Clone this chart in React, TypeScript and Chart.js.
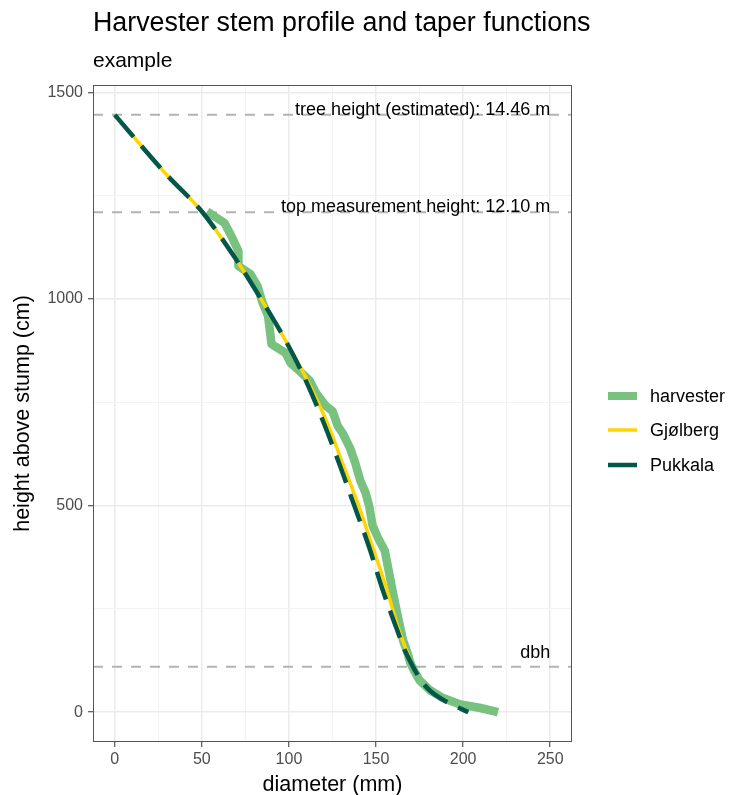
import React, { useEffect, useRef } from "react";
import { Chart, registerables } from "chart.js";
Chart.register(...registerables);

// ---- data ----
const titleText = "Harvester stem profile and taper functions";
const subtitleText = "example";
const xTitle = "diameter (mm)";
const yTitle = "height above stump (cm)";

const seriesNames = ["harvester", "Gjølberg", "Pukkala"];

const harvesterDiameter = [53, 63, 67, 71, 71, 78, 82, 84.5, 88, 90, 98, 101, 106, 112, 115.5, 121, 125, 128, 131, 135, 138, 141, 144, 146, 148, 151, 155, 157, 160, 163, 165.5, 168.5, 169.5, 172, 175, 181, 188.5, 198, 210, 220];
const harvesterHeight = [1212, 1184, 1152, 1116, 1080, 1060, 1031, 995, 959, 891, 870, 845, 826, 802, 773, 742, 729, 693, 674, 640, 604, 560, 531, 500, 452, 423, 391, 348, 283, 222, 174, 138, 121, 99, 77, 53, 34, 19, 10, 0];

const gjolbergDiameter = [0, 30, 50, 69, 84, 98, 111, 122, 131, 140, 148, 156, 163, 169];
const gjolbergHeight = [1446, 1300, 1212, 1100, 1000, 900, 800, 700, 600, 500, 400, 300, 200, 133];

const pukkalaDiameter = [0, 30, 50, 69, 84, 98, 110, 120, 129, 137.5, 146, 153.5, 162, 166.5, 172.5, 177, 181.5, 190.5, 203];
const pukkalaHeight = [1446, 1300, 1212, 1100, 1000, 900, 800, 700, 600, 500, 400, 300, 200, 150, 100, 70, 50, 25, 0];

const refLineHeight = [1446, 1210, 110];
const refLabels = ["tree height (estimated): 14.46 m", "top measurement height: 12.10 m", "dbh"];
const refLabelHeight = [1446, 1210, 130];
const refLabelDiameter = [250, 250, 250];

const xMin = -12.5;
const xMax = 262.5;
const yMin = -72.3;
const yMax = 1518.3;
const xMajorTicks = [0, 50, 100, 150, 200, 250];
const xMinorTicks = [25, 75, 125, 175, 225];
const yMajorTicks = [0, 500, 1000, 1500];
const yMinorTicks = [250, 750, 1250];

const colors = ["#78C17F", "#FFD400", "#03574A"];
const FONT = '"Liberation Sans", Arial, sans-serif';

const toPoints = (xs: number[], ys: number[]) => xs.map((x, i) => ({ x, y: ys[i] }));

export default function App() {
  const ref = useRef<HTMLCanvasElement | null>(null);

  useEffect(() => {
    const canvas = ref.current!;
    const isMajorX = (v: number) => xMajorTicks.includes(v);
    const isMajorY = (v: number) => yMajorTicks.includes(v);

    const decor = {
      id: "decor",
      afterDatasetsDraw(chart: any) {
        const { ctx, scales } = chart;
        const a = chart.chartArea;
        ctx.save();
        ctx.beginPath();
        ctx.rect(a.left, a.top, a.right - a.left, a.bottom - a.top);
        ctx.clip();
        ctx.fillStyle = "#000000";
        ctx.font = `18px ${FONT}`;
        ctx.textAlign = "right";
        ctx.textBaseline = "alphabetic";
        refLabels.forEach((t, i) => {
          ctx.fillText(t, scales.x.getPixelForValue(refLabelDiameter[i]), scales.y.getPixelForValue(refLabelHeight[i]));
        });
        ctx.restore();
      },
      afterDraw(chart: any) {
        const { ctx } = chart;
        const a = chart.chartArea;
        ctx.save();
        // panel border
        ctx.strokeStyle = "#555555";
        ctx.lineWidth = 1;
        ctx.strokeRect(Math.round(a.left) + 0.5, Math.round(a.top) + 0.5, Math.round(a.right - a.left) - 1, Math.round(a.bottom - a.top) - 1);
        // titles
        ctx.fillStyle = "#000000";
        ctx.textAlign = "left";
        ctx.textBaseline = "alphabetic";
        ctx.font = `26.8px ${FONT}`;
        ctx.fillText(titleText, a.left, 31);
        ctx.font = `21px ${FONT}`;
        ctx.fillText(subtitleText, a.left, 67);
        // axis titles
        ctx.textAlign = "center";
        ctx.font = `21.5px ${FONT}`;
        ctx.fillText(xTitle, (a.left + a.right) / 2, 791);
        ctx.save();
        ctx.translate(29, (a.top + a.bottom) / 2);
        ctx.rotate(-Math.PI / 2);
        ctx.fillText(yTitle, 0, 0);
        ctx.restore();
        // legend
        const widths = [8, 3.5, 4.5];
        const rowY = [396, 430, 465];
        ctx.font = `18px ${FONT}`;
        ctx.textAlign = "left";
        ctx.textBaseline = "middle";
        seriesNames.forEach((name, i) => {
          ctx.strokeStyle = colors[i];
          ctx.lineWidth = widths[i];
          ctx.beginPath();
          ctx.moveTo(608, rowY[i]);
          ctx.lineTo(637, rowY[i]);
          ctx.stroke();
          ctx.fillStyle = "#000000";
          ctx.fillText(name, 650, rowY[i] + 1);
        });
        ctx.restore();
      },
    };

    const refDatasets = refLineHeight.map((h) => ({
      label: "ref",
      data: [{ x: xMin, y: h }, { x: xMax, y: h }],
      borderColor: "#B3B3B3",
      borderWidth: 2,
      borderDash: [10, 9],
      pointRadius: 0,
      order: 4,
    }));

    const chart = new Chart(canvas, {
      type: "line",
      data: {
        datasets: [
          ...refDatasets,
          {
            label: seriesNames[0],
            data: toPoints(harvesterDiameter, harvesterHeight),
            borderColor: colors[0],
            borderWidth: 8.5,
            borderJoinStyle: "round",
            pointRadius: 0,
            tension: 0,
            order: 3,
          },
          {
            label: seriesNames[1],
            data: toPoints(gjolbergDiameter, gjolbergHeight),
            borderColor: colors[1],
            borderWidth: 3.5,
            pointRadius: 0,
            cubicInterpolationMode: "monotone",
            order: 2,
          },
          {
            label: seriesNames[2],
            data: toPoints(pukkalaDiameter, pukkalaHeight),
            borderColor: colors[2],
            borderWidth: 4.5,
            borderDash: [29, 12],
            pointRadius: 0,
            cubicInterpolationMode: "monotone",
            order: 1,
          },
        ] as any,
      },
      options: {
        animation: false,
        responsive: false,
        maintainAspectRatio: false,
        events: [],
        layout: { padding: { left: 0, right: 157, top: 85, bottom: 0 } },
        plugins: { legend: { display: false }, title: { display: false }, tooltip: { enabled: false } },
        scales: {
          x: {
            type: "linear",
            min: xMin,
            max: xMax,
            afterBuildTicks: (s: any) => {
              s.ticks = [...xMajorTicks, ...xMinorTicks].sort((p, q) => p - q).map((v) => ({ value: v }));
            },
            afterFit: (s: any) => {
              s.height = 53;
            },
            border: { display: false },
            grid: {
              color: (c: any) => (isMajorX(c.tick?.value) ? "#EBEBEB" : "#F3F3F3"),
              lineWidth: (c: any) => (isMajorX(c.tick?.value) ? 1.5 : 1),
              tickColor: (c: any) => (isMajorX(c.tick?.value) ? "#333333" : "rgba(0,0,0,0)"),
              tickLength: 5,
              tickWidth: 1,
            },
            ticks: {
              autoSkip: false,
              maxRotation: 0,
              padding: 3,
              color: "#4D4D4D",
              font: { family: FONT, size: 16 },
              callback: (v: any) => (isMajorX(Number(v)) ? String(v) : ""),
            },
          },
          y: {
            type: "linear",
            min: yMin,
            max: yMax,
            afterBuildTicks: (s: any) => {
              s.ticks = [...yMajorTicks, ...yMinorTicks].sort((p, q) => p - q).map((v) => ({ value: v }));
            },
            afterFit: (s: any) => {
              s.width = 93;
            },
            border: { display: false },
            grid: {
              color: (c: any) => (isMajorY(c.tick?.value) ? "#EBEBEB" : "#F3F3F3"),
              lineWidth: (c: any) => (isMajorY(c.tick?.value) ? 1.5 : 1),
              tickColor: (c: any) => (isMajorY(c.tick?.value) ? "#333333" : "rgba(0,0,0,0)"),
              tickLength: 5,
              tickWidth: 1,
            },
            ticks: {
              autoSkip: false,
              padding: 5,
              color: "#4D4D4D",
              font: { family: FONT, size: 16 },
              callback: (v: any) => (isMajorY(Number(v)) ? String(v) : ""),
            },
          },
        },
      } as any,
      plugins: [decor],
    });
    return () => chart.destroy();
  }, []);

  return (
    <div style={{ position: "absolute", left: 0, top: 0, width: 729, height: 795, background: "#ffffff" }}>
      <canvas ref={ref} width={729} height={795} style={{ width: 729, height: 795, display: "block" }} />
    </div>
  );
}
